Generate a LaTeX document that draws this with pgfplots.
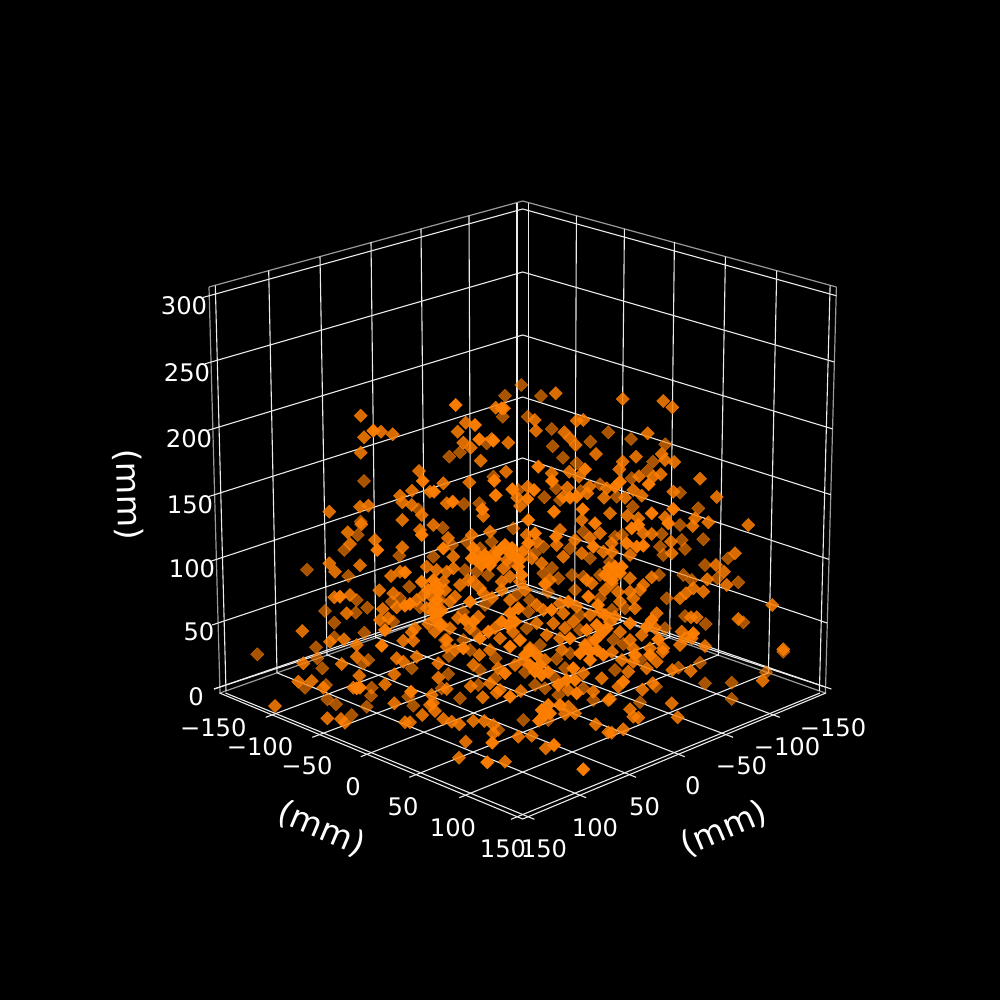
\documentclass[border=0pt]{standalone}
\usepackage{fontspec}
\setmainfont{DejaVu Sans}
\usepackage{pgfplots}
\pgfplotsset{compat=1.18}
\definecolor{dots}{RGB}{255,127,0}
\pgfplotsset{
  gridline/.style={white!92!black, line width=0.55pt, forget plot},
  paneline/.style={white!60!black, line width=0.6pt, forget plot},
  scatterpts/.style={only marks, mark=square*, mark size=2.35pt, color=dots,
    mark options={rotate=45, line width=0.2pt, color=dots, opacity=#1}},
}
\newcommand{\tick}[2]{\node[white, font=\fontsize{12.1}{13}\selectfont, inner sep=0pt] at (axis cs:#1) {#2};}
\begin{document}
\begin{tikzpicture}
\fill[black] (0,0) rectangle (500pt,500pt);
\begin{axis}[
  at={(0,0)}, anchor=south west,
  scale only axis, width=500pt, height=500pt,
  xmin=0, xmax=1000, ymin=0, ymax=1000, y dir=reverse,
  hide axis, clip=false,
]
% pane outlines
\addplot[paneline] coordinates {(209,287) (522.7,201) (836.4,287)};
\addplot[paneline] coordinates {(209,287) (220,693)};
\addplot[paneline] coordinates {(836.4,287) (825.4,693)};
\addplot[paneline] coordinates {(220,693) (522.7,586) (825.4,693)};
\addplot[gridline] coordinates {(219.5,693) (522.7,819) (825.9,693)};
% height grid, left and right wall
\addplot[gridline] coordinates {(203.2,297.4) (522.7,209) (836.2,295.7)};
\addplot[gridline] coordinates {(205,363.8) (522.7,272) (834.4,362)};
\addplot[gridline] coordinates {(206.8,430.7) (522.7,335) (832.6,428.9)};
\addplot[gridline] coordinates {(208.6,496.6) (522.7,397) (830.8,494.7)};
\addplot[gridline] coordinates {(210.4,561.4) (522.7,458) (829,559.4)};
\addplot[gridline] coordinates {(212.2,625) (522.7,521) (827.2,623)};
\addplot[gridline] coordinates {(214,689) (522.7,583) (825.4,687)};
% wall verticals
\addplot[gridline] coordinates {(215.3,285.5) (226,691)};
\addplot[gridline] coordinates {(268.7,270.7) (277,673)};
\addplot[gridline] coordinates {(320,256.7) (327,656)};
\addplot[gridline] coordinates {(371,242) (375.7,638)};
\addplot[gridline] coordinates {(421,229) (425,620)};
\addplot[gridline] coordinates {(469,215.7) (470.7,603)};
\addplot[gridline] coordinates {(517,203) (517,586)};
\addplot[gridline] coordinates {(528.4,203) (528.4,586)};
\addplot[gridline] coordinates {(576.4,215.7) (574.7,603)};
\addplot[gridline] coordinates {(624.4,229) (620.4,620)};
\addplot[gridline] coordinates {(674.4,242) (669.7,638)};
\addplot[gridline] coordinates {(725.4,256.7) (718.4,656)};
\addplot[gridline] coordinates {(776.7,270.7) (768.4,673)};
\addplot[gridline] coordinates {(830.1,285.5) (819.4,691)};
% floor grid
\addplot[gridline] coordinates {(214,689) (528,586)};
\addplot[gridline] coordinates {(265.7,717.3) (575,602)};
\addplot[gridline] coordinates {(312.3,737.3) (622,621.7)};
\addplot[gridline] coordinates {(360.7,756.7) (670,637)};
\addplot[gridline] coordinates {(409.3,777.3) (718,655)};
\addplot[gridline] coordinates {(459.3,797.7) (768,673)};
\addplot[gridline] coordinates {(511,819.3) (820,693)};
\addplot[gridline] coordinates {(831.4,689) (517,586)};
\addplot[gridline] coordinates {(779.7,717.3) (470.4,602)};
\addplot[gridline] coordinates {(733.1,737.3) (423.4,621.7)};
\addplot[gridline] coordinates {(684.7,756.7) (375.4,637)};
\addplot[gridline] coordinates {(636.1,777.3) (327.4,655)};
\addplot[gridline] coordinates {(586.1,797.7) (277.4,673)};
\addplot[gridline] coordinates {(534.4,819.3) (225.4,693)};
% far points
\addplot[scatterpts=0.66] coordinates {
(364,481)(418.3,509.3)(360.7,521.7)(505,395.7)(521.3,385)(541,396)(502.7,416.7)(527.7,416.7)
(551.7,429)(590.3,441.7)(608.3,432.3)(486.7,443.3)(460,452.3)(449.3,456.7)(552.7,446.3)(563,457.7)
(576.7,463.3)(493.3,476.7)(600,484.3)(556,488.3)(580.7,491)(518.3,490)(544.3,497.3)(560,500)
(464,504)(479.3,503.3)(631,439)(665.3,444.3)(653,461.7)(647.7,470.7)(631.7,478.3)(616.7,496.7)
(680,492.7)(632.7,506.7)(698.3,508.3)(357.7,535)(344.3,550)(399.3,555.7)(307,569.7)(348.3,576)
(409.3,586.7)(356.7,600)(400,598.3)(391.7,601.7)(420,607.3)(367.3,607.7)(325,611)(355.7,612.7)
(334.3,622.7)(364.3,632.7)(393.3,621.7)(334.3,637.3)(316,647.3)(442.7,527.7)(513.3,528.3)(525,550)
(543.3,546.7)(570,548.3)(583.3,531.7)(590,558.3)(433.3,556.7)(466.7,541.7)(480,548.3)(491.7,541.7)
(510,561.7)(543.3,573.3)(476.7,571.7)(558.3,578.3)(583.3,576.7)(600,575)(516.7,595)(528.3,611.7)
(580,615)(526.7,628.3)(580,630)(463.3,640)(680,525)(615,536.7)(661.7,534)(703.3,539.3)
(681.7,540)(685,549)(660,546.7)(663.3,555)(728,558.3)(705,565)(683.3,575)(691.7,580)
(717.3,578.3)(738.3,582.3)(659,575)(666.7,598.3)(625,608.3)(743.3,622.3)(685,616)(705.7,624)
(665,628.3)(623.3,644)(613.3,640)(257.3,654.3)(317.3,658.3)(322.3,668.3)(363.3,663.3)(368.3,660)
(411.7,668.3)(305,687.7)(326,685)(371.7,687.7)(371,695.7)(408.3,696.7)(327.3,699.3)(336,704.3)
(366.7,706.7)(413.3,705.7)(351.7,715)(449,656)(495.7,658.3)(448.3,674)(495,678.3)(478.3,685)
(441.7,688.3)(460,698.3)(498.3,730)(523.3,720)(548.3,720)(558.3,695)(535,685)(545,688.3)
(555,678.3)(583.3,688.3)(593.3,700)(556.7,659)(570,653.3)(470,650)(615,670)(678.3,667.7)
(700,662.7)(705,683.3)(731.7,682.7)(731.7,699)(766,672.3)(783.3,651.7)(656,686.7)(640,702.3)
(452,545)(465,570)(488,575)(535,553)(552,568)(572,575)(610,562)(622,535)
(440,600)(463,612)(485,605)(530,600)(548,592)(575,590)(600,598)(612,610)
(445,640)(475,632)(540,645)(590,642)(640,660)(480,670)(525,672)(565,668)
};
% middle points
\addplot[scatterpts=0.85] coordinates {
(360.7,415.7)(364,437.3)(381,431.7)(392.7,434.3)(360.7,452.7)(419,471)(412,490.7)(400,495.7)
(402.3,502.3)(329.3,511.7)(360,506.7)(368.3,505.7)(411.7,505)(402.3,520)(430,491.7)(421.7,515)
(555.7,393.3)(495.7,407.7)(504,408.3)(465.7,422.7)(457.7,431.7)(534.7,420)(536,430.7)(576.7,420.7)
(583.3,420)(564.3,432.3)(570,438.3)(575.7,445)(491.7,439)(508.3,442.7)(463.3,442.7)(470.7,447.7)
(480.7,460.7)(596,454)(569.3,471.7)(579,476.7)(551.7,473.3)(506,471.7)(469.3,482.3)(443.3,483.3)
(589.3,486.7)(606.7,488.3)(567.3,487.7)(527.7,486.7)(517.3,497.7)(563.3,496.7)(587.3,493.3)(604,497.7)
(446.7,503.3)(520,506)(622.7,399)(663.3,401)(672.3,407.3)(647.7,433.3)(636,456.7)(661.7,454)
(665,460)(674.3,462)(622.7,461.7)(619.3,469.3)(660.7,474.3)(639,476.3)(653.3,476.7)(700,478.7)
(633.3,490)(641.7,495.7)(625,497.7)(673.3,491.7)(716.7,497)(610,513.3)(627.3,515.7)(638.3,518.3)
(665,517.3)(695,518.3)(347.7,532.3)(361.3,524.3)(375,540)(350,544)(402.3,547.3)(420,530)
(329.3,563.3)(335,571.7)(360,565.3)(400,571.7)(391,576)(426.7,566.7)(379.3,590.3)(334.3,597.3)
(350,595)(393.3,593.3)(396.7,607.3)(416.7,600)(423.3,595)(426.7,608.3)(346.7,613.3)(382.7,609)
(302.3,631)(388.3,618.3)(380,620)(428.3,624)(344,639.3)(330,641.7)(356.7,645)(403.3,640.7)
(411.7,632.3)(415,628.3)(413.3,640.7)(433.3,525)(483.3,516)(490,531.7)(471.7,535)(526.7,535)
(536.7,541.7)(563.3,556.7)(556.7,545)(581.7,520)(600,533.3)(575,540)(581.7,553.3)(603.3,551.7)
(453.3,556.7)(503.3,568.3)(531.7,558.3)(541.7,563.3)(453.3,568.3)(446.7,571.7)(436.7,570)(468.3,580)
(510,576.7)(501.7,581.7)(520,581.7)(550,580)(586.7,580)(591.7,583.3)(480,588.3)(473.3,581.7)
(443.3,581.7)(455,596.7)(501.7,590)(483.3,593.3)(560,603.3)(536.7,605)(576.7,606.7)(441.7,610)
(450,601.7)(543.3,610)(563.3,613.3)(590,615)(600,611.7)(478.3,616.7)(450,628.3)(470,628.3)
(536.7,623.3)(553.3,623.3)(573.3,621.7)(500,638.3)(546.7,635)(560,638.3)(435,631.7)(446.7,640)
(748.3,525)(708.3,522.3)(692.7,526)(651.7,534)(643.3,533.3)(671,541.7)(671.7,553.3)(611.7,543.3)
(630,555)(735,553.3)(716,565)(724,571.7)(707.3,579.3)(726.7,585)(651.7,577.3)(630,578.3)
(611.7,583.3)(643.3,585)(640,590)(630,591.7)(693.3,588.3)(686,593.3)(680,598.3)(703.3,591.7)
(620,601.7)(633.3,598.3)(635,608.3)(772.3,605)(738.3,619)(691,617.3)(696.7,617.3)(656.7,613.3)
(615,616.7)(641.7,635)(681.7,631.7)(685,638.3)(691.7,638.3)(630,640)(705,646)(783.3,649.3)
(680,645)(650,648.3)(663.3,648.3)(633.3,648.3)(303.3,663.3)(341.7,664)(356.7,656.7)(396.7,658.3)
(403.3,661.7)(416.7,656.7)(394.3,674.3)(359.3,675.7)(298.3,681.7)(311.7,681)(323.3,687.7)(353.3,687.7)
(385,684.3)(275,706)(394.3,703.3)(430,705)(327.3,718.3)(341,719)(345,722.7)(422.3,715)
(405,722.3)(410,722.3)(438.3,663.3)(479.3,655)(473.3,665)(438.3,677.7)(498.3,668.3)(515,665)
(490,683.3)(470.7,686.3)(446.7,689)(431.7,695)(482.7,697.3)(496.7,692.7)(520.7,691)(435,711)
(443.3,719)(451.7,721.7)(459.3,724.3)(473.3,721)(484.3,721)(493.3,725)(493.3,733.3)(465.7,741.7)
(518.3,736.7)(531.7,735.7)(459,757.7)(505,761.7)(545.7,748.3)(608.3,732.3)(595.7,724.3)(568.3,706.7)
(565,714)(575,713.3)(583.3,673.3)(601.7,678.3)(593.3,691.7)(608.3,700)(523.3,660)(545,660)
(446.7,646.7)(628.3,671.7)(618.3,686.7)(633.3,661.7)(646.7,668.3)(656.7,661.7)(662.7,651.7)(672.3,670)
(690.7,671)(762.7,680.7)(652.7,683.3)(642.3,689.7)(630,709.3)(633.3,716.7)(638.3,717.7)(671.7,703.3)
(677.7,717.3)(623.3,729.3)(611.7,732.7)(610,699)(433,703)
(448,538)(478,555)(495,552)(507,560)(522,552)(560,530)(590,538)(612,552)
(445,590)(430,595)(460,585)(492,598)(510,600)(525,590)(605,590)(618,592)
(442,625)(458,618)(495,628)(513,632)(565,628)(610,622)(620,632)(655,628)
(455,650)(490,650)(530,648)(562,650)(612,652)(622,660)(500,690)(568,690)
};
% near points
\addplot[scatterpts=0.97] coordinates {
(373.3,430.7)(422.7,481)(455.7,405)(501.7,408.3)(475,425)(479.3,439.3)(493.3,440.7)(538.3,466.7)
(585,469.3)(494.3,480.7)(434,491.7)(552,481)(512.3,489.3)(534,490)(495.7,495.3)(527.3,499)
(570,497.7)(576.7,496.7)(452.7,501.7)(482.3,509.3)(582.7,509.3)(554,511.7)(648.7,484.3)(620,481.7)
(615,486.7)(673.3,509)(651.7,513.3)(377.3,550)(421.7,535)(405,572.3)(421.7,581.7)(340,596.7)
(405,605.7)(410,604)(385,630)(381.7,645.7)(528.3,520)(535,533.3)(528.3,543.3)(556,536.7)
(595,523.3)(593.3,546.7)(443.3,548.3)(473.3,548.3)(471.7,558.3)(501.7,548.3)(488.3,560)(495,558.3)
(481.7,565)(510,553.3)(516.7,558.3)(518.3,566.7)(521.7,575)(545,584)(433.3,580)(438.3,591.7)
(588.3,596.7)(470,601.7)(568.3,601.7)(433.3,605)(518.3,608.3)(510,613.3)(501.7,621.7)(508.3,625)
(515,621.7)(551.7,610)(465,620)(473.3,621.7)(435,618.3)(440,625)(488.3,631.7)(586.7,630)
(596.7,625)(606.7,628.3)(480,638.3)(570,638.3)(600,635)(520,640)(668.3,523.3)(638.3,525)
(631.7,528.3)(626.7,543.3)(636.7,546.7)(643.3,545.7)(615,566.7)(621.7,566.7)(613.3,575)(651.7,620)
(646.7,626.7)(630,623.3)(693.3,633.3)(658.3,639.3)(360,687.7)(356.7,688.3)(411,691.7)(505,673.3)
(510,696.7)(492.3,742.7)(487.3,762.3)(554,745)(583.3,769.3)(539,720.7)(548.3,705)(541.7,710)
(550,713.3)(558.3,685)(566.7,680)(573.3,668.3)(576.7,693.3)(535,671.7)(541.7,675)(530,665)
(536.7,655)(510,646.7)(590,651.7)(603.3,655)(580,653.3)(463.3,648.3)(623.3,681.7)(635,655)
(650,655)
(437,600)(433,612)(428,590)(440,612)(436,585)(505,545)(512,548)(520,560)
(498,552)(485,555)(490,565)(476,560)(609,568)(620,573)(612,580)(605,575)
(525,655)(530,650)(590,660)(597,650)(585,645)(595,640)(540,665)(548,672)
(575,680)(560,705)(545,715)(605,615)(598,605)
};
% tick labels
\tick{184,306}{300}
\tick{187,373}{250}
\tick{189,439}{200}
\tick{190,505}{150}
\tick{192,569}{100}
\tick{199,632}{50}
\tick{196,697}{0}
\tick{213.3,727.3}{−150}
\tick{260,747}{−100}
\tick{307,766}{−50}
\tick{353,786.3}{0}
\tick{403,806.7}{50}
\tick{453,828}{100}
\tick{503,849}{150}
\tick{833,727.5}{−150}
\tick{787,747}{−100}
\tick{741.5,766}{−50}
\tick{692.7,786}{0}
\tick{644.5,807}{50}
\tick{595,828}{100}
\tick{544,849}{150}
% axis labels
\node[white, font=\fontsize{16.6}{18}\selectfont, inner sep=0pt, rotate=-23] at (axis cs:321.7,829) {(mm)};
\node[white, font=\fontsize{16.6}{18}\selectfont, inner sep=0pt, rotate=23] at (axis cs:724,829) {(mm)};
\node[white, font=\fontsize{16.6}{18}\selectfont, inner sep=0pt, rotate=-88.5] at (axis cs:128,495) {(mm)};
\end{axis}
\end{tikzpicture}
\end{document}
